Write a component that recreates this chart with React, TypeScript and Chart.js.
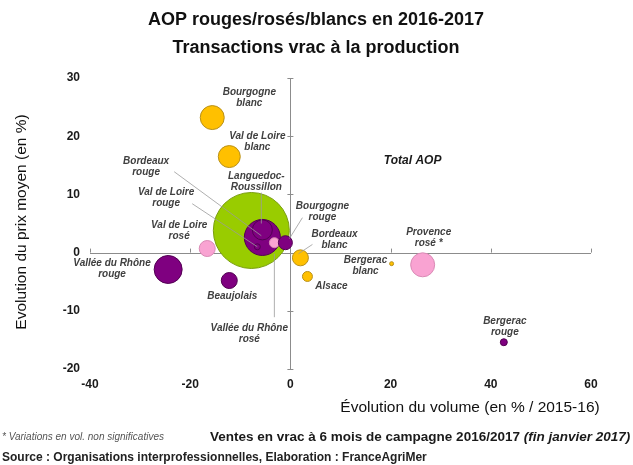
import React, { useEffect, useRef } from "react";
import { Chart, registerables } from "chart.js";

Chart.register(...registerables);

// Data (volume change %, price change %, bubble size)
const names = [
  "Languedoc-Roussillon",
  "Bordeaux rouge",
  "Autre rouge",
  "Val de Loire rouge",
  "Vallée du Rhône rosé",
  "Bourgogne rouge",
  "Bourgogne blanc",
  "Val de Loire blanc",
  "Val de Loire rosé",
  "Vallée du Rhône rouge",
  "Beaujolais",
  "Bordeaux blanc",
  "Alsace",
  "Bergerac blanc",
  "Provence rosé",
  "Bergerac rouge",
];
const volumeChange = [-7.8, -5.6, -5.6, -6.6, -3.2, -1.0, -15.6, -12.2, -16.6, -24.4, -12.2, 2.0, 3.4, 20.2, 26.4, 42.6];
const priceChange = [3.8, 2.6, 3.9, 1.0, 1.7, 1.7, 23.2, 16.5, 0.7, -2.9, -4.8, -0.9, -4.1, -1.9, -2.1, -15.4];
const bubbleSize = [38, 18, 10, 3, 5, 7, 12, 11, 8, 14, 8, 8, 5, 2, 12, 3.5];
const colorType = ["g", "p", "p", "p", "k", "p", "y", "y", "k", "p", "p", "y", "y", "y", "k", "p"];

const xTicks = [-40, -20, 0, 20, 40, 60];
const yTicks = [-20, -10, 0, 10, 20, 30];

// Label annotations: text lines, anchor in data units
const labelTexts = [
  ["Bourgogne", "blanc"],
  ["Val de Loire", "blanc"],
  ["Bordeaux", "rouge"],
  ["Languedoc-", "Roussillon"],
  ["Val de Loire", "rouge"],
  ["Val de Loire", "rosé"],
  ["Bourgogne", "rouge"],
  ["Bordeaux", "blanc"],
  ["Provence", "rosé *"],
  ["Bergerac", "blanc"],
  ["Alsace"],
  ["Bergerac", "rouge"],
  ["Vallée du Rhône", "rouge"],
  ["Beaujolais"],
  ["Vallée du Rhône", "rosé"],
];
const labelX = [-8.2, -6.6, -28.8, -6.8, -24.8, -22.2, 6.4, 8.8, 27.6, 15.0, 8.2, 42.8, -35.6, -11.6, -8.2];
const labelY = [26.6, 19.1, 14.8, 12.2, 9.4, 3.8, 7.1, 2.2, 2.5, -2.3, -5.7, -12.7, -2.7, -7.5, -14.0];

// Leader lines [x1, y1, x2, y2] in data units
const leaderLines = [
  [-23.2, 13.9, -5.8, 2.9],
  [-19.6, 8.4, -6.6, 1.0],
  [-5.8, 10.3, -5.8, 5.0],
  [2.4, 6.0, -0.2, 2.4],
  [4.4, 1.4, 1.6, -0.2],
  [-3.2, -11.1, -3.2, -0.2],
];

const fills: Record<string, string> = { g: "#99CC00", p: "#7F0080", k: "#F9A3D2", y: "#FFC000" };
const borders: Record<string, string> = { g: "#7A9E10", p: "#520052", k: "#D98AB5", y: "#B8901A" };

const FONT = "'Liberation Sans', Arial, sans-serif";

const overlayPlugin = {
  id: "overlay",
  beforeDatasetsDraw(chart: any) {
    const { ctx, scales } = chart;
    const xs = scales.x, ys = scales.y;
    const x0 = xs.getPixelForValue(0), y0 = ys.getPixelForValue(0);
    ctx.save();
    ctx.strokeStyle = "#8C8C8C";
    ctx.lineWidth = 1;
    ctx.beginPath();
    ctx.moveTo(xs.getPixelForValue(xTicks[0]), Math.round(y0) + 0.5);
    ctx.lineTo(xs.getPixelForValue(xTicks[xTicks.length - 1]), Math.round(y0) + 0.5);
    ctx.moveTo(Math.round(x0) + 0.5, ys.getPixelForValue(yTicks[yTicks.length - 1]));
    ctx.lineTo(Math.round(x0) + 0.5, ys.getPixelForValue(yTicks[0]));
    xTicks.forEach((t) => {
      if (t === 0) return;
      const px = Math.round(xs.getPixelForValue(t)) + 0.5;
      ctx.moveTo(px, y0);
      ctx.lineTo(px, y0 - 4);
    });
    yTicks.forEach((t) => {
      if (t === 0) return;
      const py = Math.round(ys.getPixelForValue(t)) + 0.5;
      ctx.moveTo(x0 - 3, py);
      ctx.lineTo(x0 + 3, py);
    });
    ctx.stroke();
    ctx.restore();
  },
  afterDatasetsDraw(chart: any) {
    const { ctx, scales } = chart;
    const xs = scales.x, ys = scales.y;
    ctx.save();
    ctx.strokeStyle = "#9A9A9A";
    ctx.lineWidth = 0.8;
    leaderLines.forEach((l) => {
      ctx.beginPath();
      ctx.moveTo(xs.getPixelForValue(l[0]), ys.getPixelForValue(l[1]));
      ctx.lineTo(xs.getPixelForValue(l[2]), ys.getPixelForValue(l[3]));
      ctx.stroke();
    });
    ctx.fillStyle = "#404040";
    ctx.font = `italic bold 10px ${FONT}`;
    ctx.textAlign = "center";
    ctx.textBaseline = "middle";
    labelTexts.forEach((lines, i) => {
      const cx = xs.getPixelForValue(labelX[i]);
      const cy = ys.getPixelForValue(labelY[i]);
      const lh = 11;
      const start = cy - ((lines.length - 1) * lh) / 2;
      lines.forEach((t, j) => ctx.fillText(t, cx, start + j * lh));
    });
    ctx.fillStyle = "#1A1A1A";
    ctx.font = `italic bold 12px ${FONT}`;
    ctx.fillText("Total AOP", xs.getPixelForValue(24.4), ys.getPixelForValue(15.8));
    ctx.restore();
  },
  afterDraw(chart: any) {
    const { ctx } = chart;
    ctx.save();
    ctx.fillStyle = "#111";
    ctx.textAlign = "center";
    ctx.textBaseline = "middle";
    ctx.font = `bold 18px ${FONT}`;
    ctx.fillText("AOP rouges/rosés/blancs en 2016-2017", 316, 20);
    ctx.fillText("Transactions vrac à la production", 316, 48);

    // Y axis title
    ctx.save();
    ctx.translate(22, 222);
    ctx.rotate(-Math.PI / 2);
    ctx.font = `15.5px ${FONT}`;
    ctx.fillStyle = "#111";
    ctx.fillText("Evolution du prix moyen (en %)", 0, 0);
    ctx.restore();

    // X axis title
    ctx.font = `15.5px ${FONT}`;
    ctx.fillStyle = "#111";
    ctx.fillText("Évolution du volume (en % / 2015-16)", 470, 408);

    // Footer
    ctx.textAlign = "left";
    ctx.font = `italic 10px ${FONT}`;
    ctx.fillStyle = "#555";
    ctx.fillText("* Variations en vol. non significatives", 2, 437);
    ctx.font = `bold 13.5px ${FONT}`;
    ctx.fillStyle = "#1A1A1A";
    const main = "Ventes en vrac à 6 mois de campagne 2016/2017 ";
    const w = ctx.measureText(main).width;
    ctx.fillText(main, 210, 437);
    ctx.font = `italic bold 13.5px ${FONT}`;
    ctx.fillText("(fin janvier 2017)", 210 + w, 437);
    ctx.font = `bold 12px ${FONT}`;
    ctx.fillStyle = "#222";
    ctx.fillText("Source : Organisations interprofessionnelles, Elaboration : FranceAgriMer", 2, 458);
    ctx.restore();
  },
};

export default function App() {
  const ref = useRef<HTMLCanvasElement>(null);
  useEffect(() => {
    if (!ref.current) return;
    const data = names.map((_, i) => ({ x: volumeChange[i], y: priceChange[i], r: bubbleSize[i] }));
    const chart = new Chart(ref.current, {
      type: "bubble",
      data: {
        datasets: [
          {
            label: "AOP",
            data,
            backgroundColor: colorType.map((c) => fills[c]),
            borderColor: colorType.map((c) => borders[c]),
            borderWidth: 1,
          },
        ],
      },
      options: {
        responsive: false,
        animation: false,
        events: [],
        layout: { padding: { top: 78, right: 42, bottom: 0, left: 0 } },
        plugins: { legend: { display: false }, tooltip: { enabled: false }, title: { display: false } },
        scales: {
          x: {
            type: "linear",
            min: -40,
            max: 60,
            afterBuildTicks: (s: any) => {
              s.ticks = xTicks.map((v) => ({ value: v }));
            },
            afterFit: (s: any) => {
              s.height = 96;
            },
            grid: { display: false, drawTicks: false },
            border: { display: false },
            ticks: {
              padding: 8,
              color: "#1A1A1A",
              font: { family: FONT, size: 12, weight: "bold" },
              maxRotation: 0,
            },
          },
          y: {
            type: "linear",
            min: -20,
            max: 30,
            afterBuildTicks: (s: any) => {
              s.ticks = yTicks.map((v) => ({ value: v }));
            },
            afterFit: (s: any) => {
              s.width = 90;
            },
            grid: { display: false, drawTicks: false },
            border: { display: false },
            ticks: {
              padding: 10,
              color: "#1A1A1A",
              font: { family: FONT, size: 12, weight: "bold" },
            },
          },
        },
      },
      plugins: [overlayPlugin],
    });
    return () => chart.destroy();
  }, []);
  return (
    <div style={{ position: "absolute", left: 0, top: 0, width: 633, height: 465, background: "#fff" }}>
      <canvas ref={ref} width={633} height={465} style={{ display: "block" }} />
    </div>
  );
}
